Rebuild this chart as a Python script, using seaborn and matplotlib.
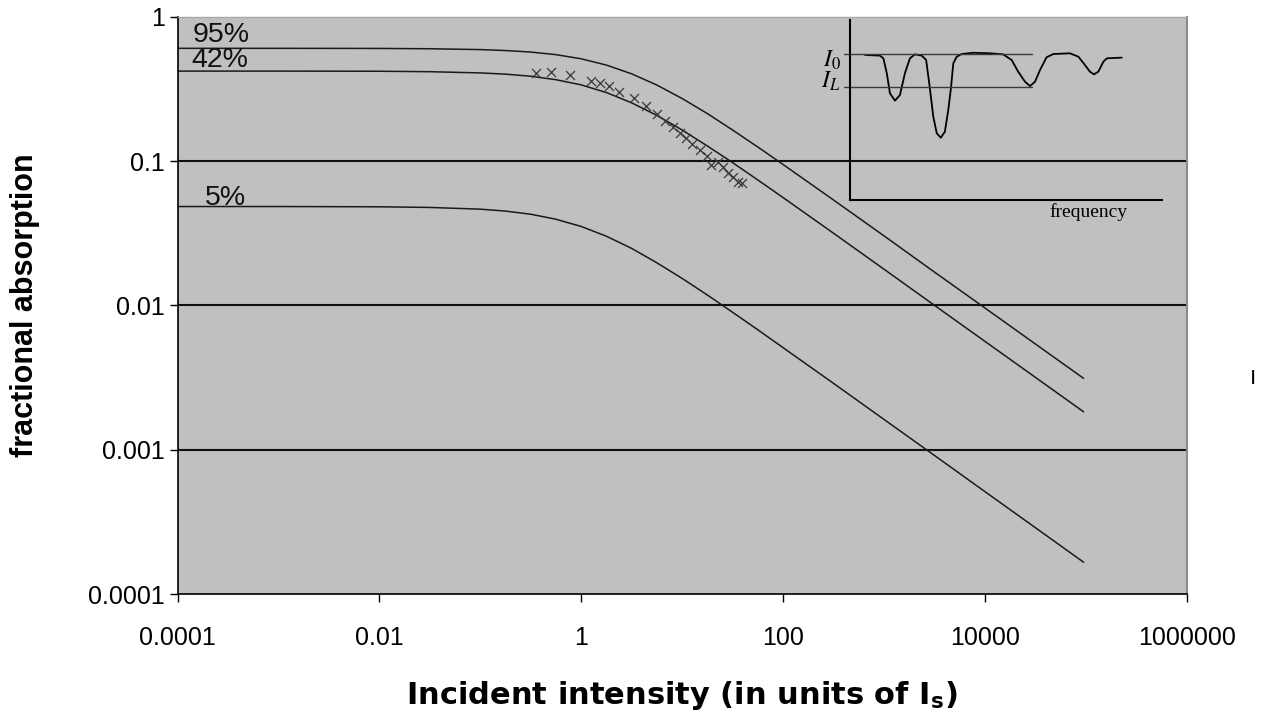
import matplotlib
matplotlib.use("Agg")
import matplotlib.pyplot as plt
from matplotlib.ticker import NullLocator, FixedLocator, FixedFormatter
import numpy as np
import pandas as pd
import seaborn as sns

# ---------------- data ----------------
intensity = [1e-4, 1e-3, 0.01, 0.0316, 0.1, 0.178, 0.316, 0.562, 1.0, 1.78,
             3.16, 5.62, 10.0, 17.8, 31.6, 56.2, 100.0, 316.0, 1000.0, 3162.0,
             10000.0, 31623.0, 95000.0]
absorption_95 = [0.604, 0.604, 0.603, 0.600, 0.592, 0.583, 0.569, 0.546, 0.511, 0.462,
                 0.402, 0.336, 0.271, 0.213, 0.164, 0.125, 0.0946, 0.0537, 0.0303, 0.0170,
                 0.00959, 0.00540, 0.00312]
absorption_42 = [0.420, 0.420, 0.419, 0.416, 0.408, 0.400, 0.387, 0.366, 0.337, 0.298,
                 0.253, 0.207, 0.164, 0.127, 0.0975, 0.0739, 0.0558, 0.0316, 0.0178, 0.0100,
                 0.00563, 0.00317, 0.00183]
absorption_5 = [0.0484, 0.0484, 0.0482, 0.0477, 0.0464, 0.0450, 0.0428, 0.0395, 0.0352, 0.0301,
                0.0248, 0.0197, 0.01536, 0.01178, 0.00895, 0.00677, 0.00509, 0.00288, 0.00162, 0.000912,
                0.000512, 0.000288, 0.000166]
curve_names = ["95%", "42%", "5%"]

meas_intensity = [0.356, 0.499, 0.774, 1.24, 1.53, 1.86, 2.39, 3.36, 4.39, 5.60,
                  6.76, 8.18, 9.53, 10.9, 12.4, 15.0, 17.8, 19.2, 22.8, 25.6,
                  28.7, 32.2, 36.1, 39.0]
meas_absorption = [0.405, 0.412, 0.394, 0.360, 0.345, 0.331, 0.302, 0.272, 0.240, 0.212,
                   0.190, 0.173, 0.157, 0.144, 0.132, 0.120, 0.108, 0.0938, 0.0989, 0.0912,
                   0.0829, 0.0778, 0.0719, 0.0700]

label_x = [1.41e-4, 1.38e-4, 1.87e-4]
label_y = [0.671, 0.450, 0.0496]

x_ticks = [1e-4, 1e-2, 1, 1e2, 1e4, 1e6]
x_tick_labels = ["0.0001", "0.01", "1", "100", "10000", "1000000"]
y_ticks = [1e-4, 1e-3, 1e-2, 1e-1, 1]
y_tick_labels = ["0.0001", "0.001", "0.01", "0.1", "1"]
grid_levels = [0.1, 0.01, 0.001]

# inset: schematic transmitted spectrum
spec_freq = [4.8, 9.6, 10.7, 11.8, 12.8, 14.4, 16.0, 17.6, 19.2, 20.8,
             23.0, 24.4, 25.4, 26.7, 27.8, 29.1, 30.4, 31.5, 32.4, 33.1,
             34.2, 35.8, 39.5, 44.9, 49.1, 51.8, 53.9, 56.1, 57.7, 59.3,
             60.9, 63.0, 65.2, 70.5, 73.2, 75.3, 76.9, 78.2, 79.6, 81.2,
             82.3, 87.1]
spec_intensity = [0.806, 0.802, 0.787, 0.704, 0.593, 0.552, 0.583, 0.704, 0.787, 0.809,
                  0.802, 0.778, 0.648, 0.463, 0.371, 0.346, 0.379, 0.500, 0.629, 0.759,
                  0.796, 0.811, 0.818, 0.815, 0.809, 0.778, 0.713, 0.657, 0.633, 0.657,
                  0.722, 0.793, 0.811, 0.815, 0.796, 0.750, 0.713, 0.698, 0.713, 0.768,
                  0.787, 0.791]
level_I0 = 0.811
level_IL = 0.629
level_span = [-2.0, 58.3]

# ---------------- style ----------------
sns.set_theme(style="white")
plt.rcParams['font.family'] = ['Liberation Sans', 'DejaVu Sans']
plt.rcParams['mathtext.fontset'] = 'stix'

fig = plt.figure(figsize=(12.79, 7.18), dpi=100)
ax = fig.add_axes([0.1389, 0.1727, 0.7890, 0.8040])
ax.set_facecolor('#c0c0c0')

df = pd.DataFrame({
    "intensity": intensity * 3,
    "absorption": absorption_95 + absorption_42 + absorption_5,
    "curve": [curve_names[0]] * len(intensity) + [curve_names[1]] * len(intensity)
             + [curve_names[2]] * len(intensity),
})
sns.lineplot(data=df, x="intensity", y="absorption", hue="curve",
             palette=["#1a1a1a"] * 3, estimator=None, legend=False,
             linewidth=1.1, ax=ax)
sns.scatterplot(x=meas_intensity, y=meas_absorption, marker="x", s=42,
                color="#383838", linewidth=0.9, ax=ax, zorder=3)

ax.set_xscale("log")
ax.set_yscale("log")
ax.set_xlim(1e-4, 1e6)
ax.set_ylim(1e-4, 1)

for lv in grid_levels:
    ax.axhline(lv, color="#101010", linewidth=1.5, zorder=1)

ax.xaxis.set_major_locator(FixedLocator(x_ticks))
ax.xaxis.set_major_formatter(FixedFormatter(x_tick_labels))
ax.yaxis.set_major_locator(FixedLocator(y_ticks))
ax.yaxis.set_major_formatter(FixedFormatter(y_tick_labels))
ax.xaxis.set_minor_locator(NullLocator())
ax.yaxis.set_minor_locator(NullLocator())
ax.tick_params(axis="both", which="major", direction="out", length=6, width=1,
               color="black", labelsize=18, labelcolor="black", bottom=True, left=True)
ax.tick_params(axis="x", pad=17)
ax.tick_params(axis="y", pad=3)

for side in ["left", "bottom"]:
    ax.spines[side].set_color("black")
    ax.spines[side].set_linewidth(1.2)
ax.spines["top"].set_color("#a8a8a8")
ax.spines["top"].set_linewidth(1.0)
ax.spines["right"].set_color("#8c8c8c")
ax.spines["right"].set_linewidth(1.5)

ax.set_xlabel("Incident intensity (in units of I$_\\mathregular{s}$)",
              fontsize=22, fontweight="bold", color="black",
              family=["DejaVu Sans"])
ax.xaxis.set_label_coords(0.5, -0.148)
ax.set_ylabel("fractional absorption", fontsize=22, fontweight="bold", color="black")
ax.yaxis.set_label_coords(-0.136, 0.5)

for name, lx, ly in zip(curve_names, label_x, label_y):
    ax.text(lx, ly, name, fontsize=20.5, color="#111111", ha="left", va="baseline")

# ---------------- inset ----------------
ins = fig.add_axes([850 / 1279, 1 - 200 / 718, 312 / 1279, 180 / 718])
ins.patch.set_alpha(0)
sns.lineplot(x=spec_freq, y=spec_intensity, sort=False, estimator=None,
             color="black", linewidth=1.3, ax=ins)
ins.plot(level_span, [level_I0, level_I0], color="#3a3a3a", linewidth=1.0, clip_on=False)
ins.plot(level_span, [level_IL, level_IL], color="#3a3a3a", linewidth=1.0, clip_on=False)
ins.set_xlim(0, 100)
ins.set_ylim(0, 1)
ins.set_xticks([])
ins.set_yticks([])
for side in ["top", "right"]:
    ins.spines[side].set_visible(False)
for side in ["left", "bottom"]:
    ins.spines[side].set_color("black")
    ins.spines[side].set_linewidth(1.5)
ins.text(0.638, -0.02, "frequency", transform=ins.transAxes, ha="left", va="top",
         fontsize=14, family=["Liberation Serif", "DejaVu Serif"], color="black")
ins.text(-0.03, 0.741, r"$I_{\mathit{0}}$", transform=ins.transAxes, ha="right",
         va="baseline", fontsize=17, color="black")
ins.text(-0.03, 0.622, r"$I_{L}$", transform=ins.transAxes, ha="right",
         va="baseline", fontsize=17, color="black")

fig.text(1253 / 1279, 1 - 377 / 718, "|", fontsize=11, ha="center", va="center",
         color="black", fontweight="bold")

fig.savefig("out.png", dpi=100)
